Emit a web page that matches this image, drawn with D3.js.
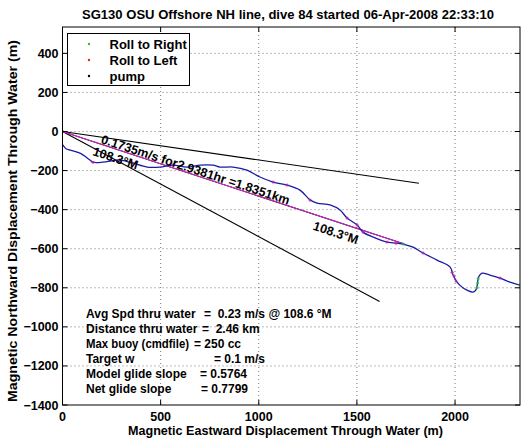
<!DOCTYPE html>
<html><head><meta charset="utf-8">
<script src="https://cdn.jsdelivr.net/npm/d3@7"></script>
<style>
body{margin:0;background:#fff}
text{font-family:"Liberation Sans",Arial,Helvetica,sans-serif;font-weight:bold;fill:#000}
</style>
</head><body>
<svg id="c" width="528" height="442"></svg>
<script>
// ---------- data ----------
const titleText = "SG130 OSU Offshore NH line, dive 84 started 06-Apr-2008 22:33:10";
const xLabel = "Magnetic Eastward Displacement Through Water (m)";
const yLabel = "Magnetic Northward Displacement Through Water (m)";
const xTicks = [0, 500, 1000, 1500, 2000];
const yTicks = [-1400, -1200, -1000, -800, -600, -400, -200, 0, 200, 400];
const xDomain = [0, 2331];
const yDomain = [-1400, 535];

// glider track (east, north) in metres
const trackX = [0, -6, -9, -6, 4, 18, 38, 89, 140, 155, 206, 293, 359, 431, 497, 563, 634, 701, 767, 803, 869, 940, 1006, 1073, 1144, 1210, 1261, 1297, 1363, 1414, 1450, 1501, 1531, 1582, 1654, 1735, 1786, 1837, 1908, 1975, 1990, 2010, 2040, 2061, 2092, 2108, 2114, 2120, 2137, 2178, 2229, 2280, 2331];
const trackY = [0, -22, -40, -58, -72, -88, -95, -111, -146, -157, -157, -146, -162, -182, -182, -172, -182, -172, -172, -182, -182, -198, -233, -259, -274, -300, -350, -366, -376, -402, -443, -479, -515, -540, -566, -576, -592, -622, -658, -694, -735, -771, -800, -812, -822, -808, -780, -745, -725, -735, -750, -771, -786];

// roll markers (points on the track)
const rollRightX = [-6, -9, -8, -6, 1735, 2112, 2115, 2118, 2331];
const rollRightY = [-22, -35, -48, -58, -576, -800, -775, -752, -786];
const rollLeftX = [0, 155, 359, 563, 1073, 1144, 1261, 1450, 1501, 1531, 1654, 1700, 1837, 1985, 1995, 2005, 2229];
const rollLeftY = [0, -157, -162, -172, -259, -274, -350, -443, -479, -515, -566, -572, -622, -720, -740, -765, -750];

// heading lines from the start
const lineHeadings = [98.3, 108.3, 118.3];
const lineLength = 1835;
const avgHeading = 108.3;
const lineText = "0.1735m/s for2.9381hr =1.8351km";
const headingText = "108.3°M";

const legendLabels = ["Roll to Right", "Roll to Left", "pump"];
const legendColors = ["#22c040", "#e02020", "#000000"];

const statLabels = ["Avg Spd thru water", "Distance thru water", "Max buoy (cmdfile)", "Target w", "Model glide slope", "Net glide slope"];
const statValues = ["=  0.23 m/s @ 108.6 °M", "=  2.46 km", "= 250 cc", "= 0.1 m/s", "= 0.5764", "= 0.7799"];

// ---------- layout ----------
const L = 62.5, R = 520, T = 27, B = 405;
const svg = d3.select("#c");
const x = d3.scaleLinear().domain(xDomain).range([L, R]);
const y = d3.scaleLinear().domain(yDomain).range([B, T]);
const fmt = d => d3.format("d")(d).replace("-", "\u2212");

// grid
const g = svg.append("g");
g.selectAll(".gx").data(xTicks.filter(d => d > 0)).enter().append("line")
  .attr("x1", d => x(d)).attr("x2", d => x(d)).attr("y1", T).attr("y2", B)
  .attr("stroke", "#555").attr("stroke-width", 0.8).attr("stroke-dasharray", "1,3");
g.selectAll(".gy").data(yTicks.filter(d => d > -1400)).enter().append("line")
  .attr("y1", d => y(d)).attr("y2", d => y(d)).attr("x1", L).attr("x2", R)
  .attr("stroke", "#555").attr("stroke-width", 0.8).attr("stroke-dasharray", "1,3");

// clip
svg.append("clipPath").attr("id", "clip").append("rect")
  .attr("x", L).attr("y", T).attr("width", R - L).attr("height", B - T);
const plot = svg.append("g").attr("clip-path", "url(#clip)");

// heading lines
const rad = d => d * Math.PI / 180;
lineHeadings.forEach(h => {
  plot.append("line")
    .attr("x1", x(0)).attr("y1", y(0))
    .attr("x2", x(lineLength * Math.sin(rad(h)))).attr("y2", y(lineLength * Math.cos(rad(h))))
    .attr("stroke", "#000").attr("stroke-width", 1.1);
});
plot.append("line")
  .attr("x1", x(0)).attr("y1", y(0))
  .attr("x2", x(lineLength * Math.sin(rad(avgHeading)))).attr("y2", y(lineLength * Math.cos(rad(avgHeading))))
  .attr("stroke", "#e020e0").attr("stroke-width", 1);

// track
const trackPts = trackX.map((v, i) => [v, trackY[i]]);
plot.append("path").datum(trackPts)
  .attr("d", d3.line().x(d => x(d[0])).y(d => y(d[1])).curve(d3.curveCatmullRom))
  .attr("fill", "none").attr("stroke", "#1a1aa8").attr("stroke-width", 1.3);

plot.selectAll(".rr").data(rollRightX.map((v, i) => [v, rollRightY[i]])).enter().append("circle")
  .attr("cx", d => x(d[0])).attr("cy", d => y(d[1])).attr("r", 1.5)
  .attr("fill", legendColors[0]).attr("opacity", 0.8);
plot.selectAll(".rl").data(rollLeftX.map((v, i) => [v, rollLeftY[i]])).enter().append("circle")
  .attr("cx", d => x(d[0])).attr("cy", d => y(d[1])).attr("r", 1.5)
  .attr("fill", "#c020a0").attr("opacity", 0.8);

// line annotations
const angPx = Math.atan2(y(lineLength * Math.cos(rad(avgHeading))) - y(0), x(lineLength * Math.sin(rad(avgHeading))) - x(0)) * 180 / Math.PI;
function along(dist) { return [x(dist * Math.sin(rad(avgHeading))), y(dist * Math.cos(rad(avgHeading)))]; }
function annot(dist, txt, dy) {
  const p = along(dist);
  svg.append("text").attr("transform", `translate(${p[0]},${p[1]}) rotate(${angPx})`)
    .attr("dy", dy).attr("font-size", 12.5).text(txt);
}
annot(201, lineText, -1);
annot(180, headingText, 13);
annot(1366, headingText, 15);

// axes box
svg.append("rect").attr("x", L).attr("y", T).attr("width", R - L).attr("height", B - T)
  .attr("fill", "none").attr("stroke", "#000").attr("stroke-width", 1);
const tk = 5;
xTicks.forEach(d => {
  svg.append("line").attr("x1", x(d)).attr("x2", x(d)).attr("y1", B).attr("y2", B - tk).attr("stroke", "#000");
  svg.append("line").attr("x1", x(d)).attr("x2", x(d)).attr("y1", T).attr("y2", T + tk).attr("stroke", "#000");
});
yTicks.forEach(d => {
  svg.append("line").attr("y1", y(d)).attr("y2", y(d)).attr("x1", L).attr("x2", L + tk).attr("stroke", "#000");
  svg.append("line").attr("y1", y(d)).attr("y2", y(d)).attr("x1", R).attr("x2", R - tk).attr("stroke", "#000");
});
svg.selectAll(".xl").data(xTicks).enter().append("text")
  .attr("x", d => x(d)).attr("y", 421).attr("text-anchor", "middle").attr("font-size", 12.5).text(fmt);
svg.selectAll(".yl").data(yTicks).enter().append("text")
  .attr("x", L - 4).attr("y", d => y(d) + 4.5).attr("text-anchor", "end").attr("font-size", 12.5).text(fmt);

// labels
svg.append("text").attr("x", 288).attr("y", 19).attr("text-anchor", "middle").attr("font-size", 13)
  .attr("textLength", 412).attr("lengthAdjust", "spacingAndGlyphs").text(titleText);
svg.append("text").attr("x", 285.5).attr("y", 435).attr("text-anchor", "middle").attr("font-size", 12.5)
  .attr("textLength", 315).attr("lengthAdjust", "spacingAndGlyphs").text(xLabel);
svg.append("text").attr("transform", "translate(17,221) rotate(-90)").attr("text-anchor", "middle").attr("font-size", 12.5)
  .attr("textLength", 362).attr("lengthAdjust", "spacingAndGlyphs").text(yLabel);

// legend
const lg = svg.append("g");
lg.append("rect").attr("x", 67.5).attr("y", 33.5).attr("width", 122).attr("height", 52)
  .attr("fill", "#fff").attr("stroke", "#000").attr("stroke-width", 1);
legendLabels.forEach((lab, i) => {
  lg.append("circle").attr("cx", 89).attr("cy", 44 + i * 16).attr("r", 1.2).attr("fill", legendColors[i]);
  lg.append("text").attr("x", 109.5).attr("y", 48.5 + i * 16).attr("font-size", 13).text(lab);
});

// stats
const eqX = [204, 202, 194, 214, 200, 201];
statLabels.forEach((lab, i) => {
  const t = svg.append("text").attr("x", 86).attr("y", 317.5 + i * 15.1).attr("font-size", 12).text(lab);
  if (i === 2) t.attr("textLength", 103).attr("lengthAdjust", "spacingAndGlyphs");
  svg.append("text").attr("x", eqX[i]).attr("y", 317.5 + i * 15.1).attr("font-size", 12)
    .style("white-space", "pre").text(statValues[i]);
});
</script>
</body></html>
